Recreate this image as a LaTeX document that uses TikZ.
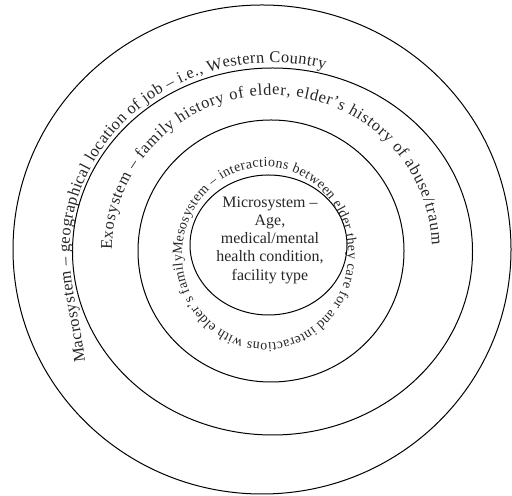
\documentclass[tikz,border=0pt]{standalone}
\usepackage{fontspec}
\setmainfont{Liberation Serif}
\usetikzlibrary{decorations.text}
\begin{document}
\begin{tikzpicture}[x=1bp,y=1bp,
  ring/.style={draw=black, line width=1bp},
  curvedtext/.style={decorate, decoration={text along path, text align=fit to path, text color=black!85}}]
\useasboundingbox (0,0) rectangle (512,496);
% rings
\draw[ring] (262,246.5) ellipse[x radius=249, y radius=244.5];
\draw[ring] (272.5,244.5) ellipse[x radius=200, y radius=183.5];
\draw[ring] (271,245) ellipse[x radius=133, y radius=131];
\draw[ring] (268.5,251) ellipse[x radius=78.5, y radius=70];
% macrosystem label
\coordinate (ma) at (85,134);
\coordinate (mb) at (70.3,261);
\path[curvedtext, decoration={text={|\fontsize{16.5}{19}\selectfont|Macrosystem – geographical location of job – i.e., Western Country}}]
  (ma) .. controls (80,180) and (66.3,216) .. (mb) arc[start angle=175, end angle=75, x radius=203, y radius=189];
% exosystem label
\coordinate (ea) at (112,246);
\path[curvedtext, decoration={text={|\fontsize{16.5}{19}\selectfont|Exosystem – family history of elder, elder’s history of abuse/traum}}]
  (ea) arc[start angle=180, end angle=2, x radius=160, y radius=155];
% mesosystem label
\coordinate (sa) at (182,241);
\path[curvedtext, decoration={text={|\fontsize{14}{17}\selectfont|Mesosystem – interactions between elder they care for and interactions with elder’s family}}]
  (sa) arc[start angle=180, end angle=-180, x radius=83, y radius=88];
% microsystem label
\node[align=center, font=\fontsize{16}{18.3}\selectfont, text=black!85] (micro) at (270,256)
  {Microsystem –\\Age,\\medical/mental\\health condition,\\facility type};
\end{tikzpicture}
\end{document}
